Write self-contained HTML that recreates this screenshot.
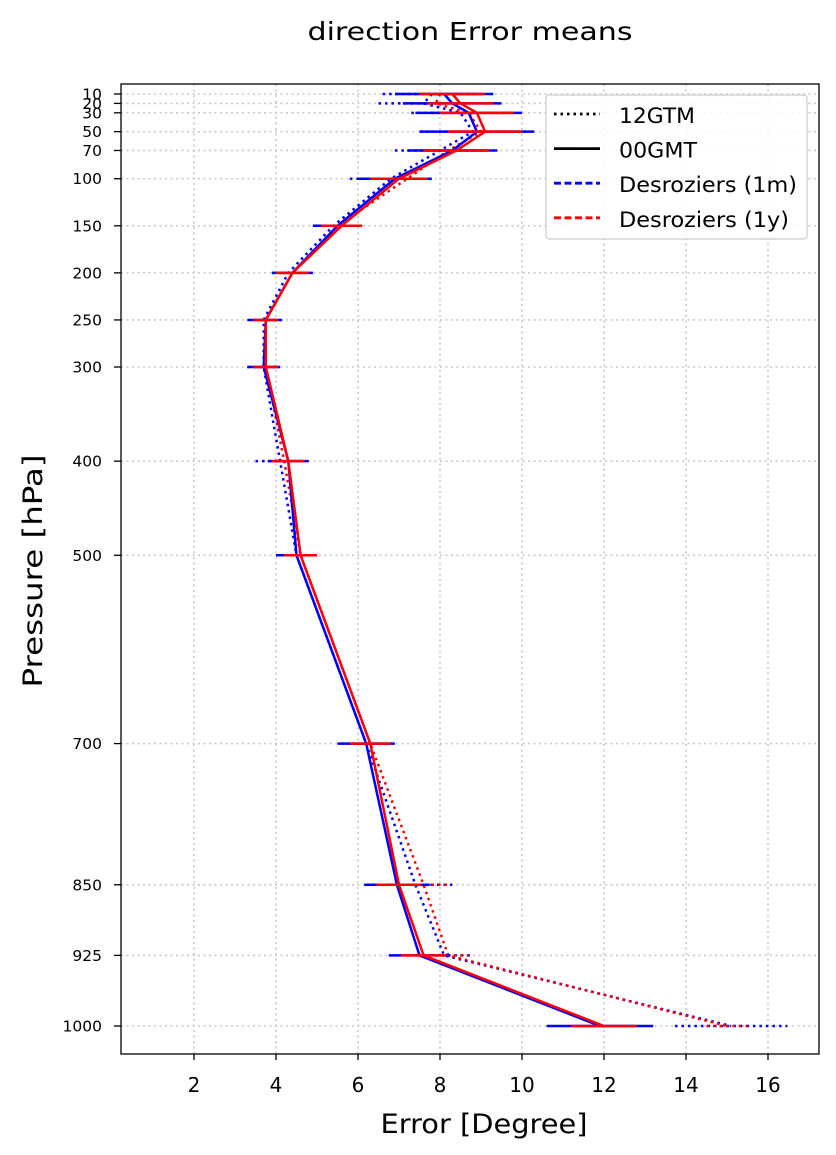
<!DOCTYPE html>
<html><head><meta charset="utf-8"><style>
body{margin:0;background:#fff;}
svg{display:block;font-family:"DejaVu Sans","Liberation Sans",sans-serif;}
</style></head><body>
<svg id="chart" width="836" height="1155" viewBox="0 0 836 1155"></svg>
<script>
const levels=[10,20,30,50,70,100,150,200,250,300,400,500,700,850,925,1000];
const blue00=[8.1,8.3,8.7,8.9,8.3,6.9,5.5,4.4,3.75,3.7,4.3,4.5,6.2,6.95,7.5,11.9];
const red00=[8.3,8.5,8.9,9.1,8.4,7.0,5.6,4.4,3.75,3.75,4.3,4.6,6.3,7.0,7.6,12.0];
const blue12=[7.8,7.6,8.5,8.8,8.0,6.8,5.4,4.3,3.7,3.7,4.1,4.5,6.2,7.4,8.1,15.1];
const red12=[8.0,7.9,8.7,9.0,8.2,7.2,5.5,4.4,3.75,3.75,4.2,4.6,6.3,7.6,8.2,15.0];
const blue00Err=[1.2,1.2,1.3,1.4,1.1,0.9,0.6,0.5,0.4,0.4,0.5,0.5,0.7,0.8,0.75,1.3];
const red00Err=[0.8,0.8,0.9,0.9,0.8,0.7,0.5,0.4,0.3,0.3,0.4,0.4,0.5,0.55,0.55,0.8];
const blue12Err=[1.2,1.1,1.2,1.3,1.1,1.0,0.5,0.4,0.4,0.4,0.6,0.5,0.6,0.9,0.7,1.37];
const red12Err=[0.8,0.8,0.9,0.9,0.7,0.6,0.4,0.3,0.3,0.3,0.4,0.35,0.45,0.6,0.5,0.5];
const xTicks=[2,4,6,8,10,12,14,16];

const svg=document.getElementById('chart');
const NS='http://www.w3.org/2000/svg';
const L=121,R=819,T=84,B=1054;
const xs=v=>112+41*v;
const ys=p=>94+(p-10)*(1026-94)/990;
function mk(tag,attrs,parent){const e=document.createElementNS(NS,tag);for(const k in attrs)e.setAttribute(k,attrs[k]);(parent||svg).appendChild(e);return e;}

// title
let t=mk('text',{x:470,y:40,'text-anchor':'middle','font-size':'25',textLength:'325',lengthAdjust:'spacingAndGlyphs'});t.textContent='direction Error means';



// grid
const grid=mk('g',{stroke:'#c8c8c8','stroke-width':'1.6','stroke-dasharray':'2,3.5'});


xTicks.forEach(v=>mk('line',{x1:xs(v),x2:xs(v),y1:T,y2:B},grid));
levels.forEach(p=>mk('line',{x1:L,x2:R,y1:ys(p),y2:ys(p)},grid));

// series
function series(vals,errs,color,dotted,name){
  const g=mk('g',{fill:'none',stroke:color});
  
  
  const da=dotted?'2.5,4':'none';
  levels.forEach((p,i)=>{
    const b=mk('line',{x1:xs(vals[i]-errs[i]),x2:xs(vals[i]+errs[i]),y1:ys(p),y2:ys(p),'stroke-width':'2.5','stroke-dasharray':da},g);
    
    
  });
  const pts=levels.map((p,i)=>xs(vals[i]).toFixed(1)+','+ys(p).toFixed(1)).join(' ');
  const pl=mk('polyline',{points:pts,'stroke-width':'2.5','stroke-dasharray':da},g);
  
  
}
series(blue12,blue12Err,'#0000ff',true,'desroziers-1m-12gtm');
series(red12,red12Err,'#ff0000',true,'desroziers-1y-12gtm');
series(blue00,blue00Err,'#0000ff',false,'desroziers-1m-00gmt');
series(red00,red00Err,'#ff0000',false,'desroziers-1y-00gmt');

// frame
const fr=mk('rect',{x:L,y:T,width:R-L,height:B-T,fill:'none',stroke:'#000','stroke-width':'1.3'});



// ticks
xTicks.forEach(v=>{
  mk('line',{x1:xs(v),x2:xs(v),y1:B,y2:B+6,stroke:'#000','stroke-width':'1.3'});
  const tx=mk('text',{x:xs(v),y:1092,'text-anchor':'middle','font-size':'20'});tx.textContent=v;
  
  
});
levels.forEach(p=>{
  mk('line',{x1:L-7,x2:L,y1:ys(p),y2:ys(p),stroke:'#000','stroke-width':'1.3'});
  const ty=mk('text',{x:102,y:ys(p)+5.5,'text-anchor':'end','font-size':'15.5'});ty.textContent=p;
  
  
});

// axis titles
let xt=mk('text',{x:484,y:1133,'text-anchor':'middle','font-size':'27',textLength:'207',lengthAdjust:'spacingAndGlyphs'});xt.textContent='Error [Degree]';


let yt=mk('text',{x:0,y:0,'text-anchor':'middle','font-size':'27',textLength:'233',lengthAdjust:'spacingAndGlyphs',transform:'translate(42,571) rotate(-90)'});yt.textContent='Pressure [hPa]';



// legend
const lg=mk('g',{});


mk('rect',{x:546,y:95,width:261,height:144,rx:3,fill:'#fff','fill-opacity':'0.85',stroke:'#cccccc','stroke-width':'1.2'},lg);
const items=[['12GTM','#000','2.5,4',76],['00GMT','#000','none',78],['Desroziers (1m)','#0000ff','7,3.5',178],['Desroziers (1y)','#ff0000','7,3.5',170]];
items.forEach((it,i)=>{
  const y=114+i*34.6;
  const e=mk('g',{},lg);
  
  
  mk('line',{x1:554,x2:600,y1:y,y2:y,stroke:it[1],'stroke-width':'2.8','stroke-dasharray':it[2]},e);
  const tt=mk('text',{x:619,y:y+9,'font-size':'21',textLength:it[3],lengthAdjust:'spacingAndGlyphs'},e);tt.textContent=it[0];
});
</script>
</body></html>
